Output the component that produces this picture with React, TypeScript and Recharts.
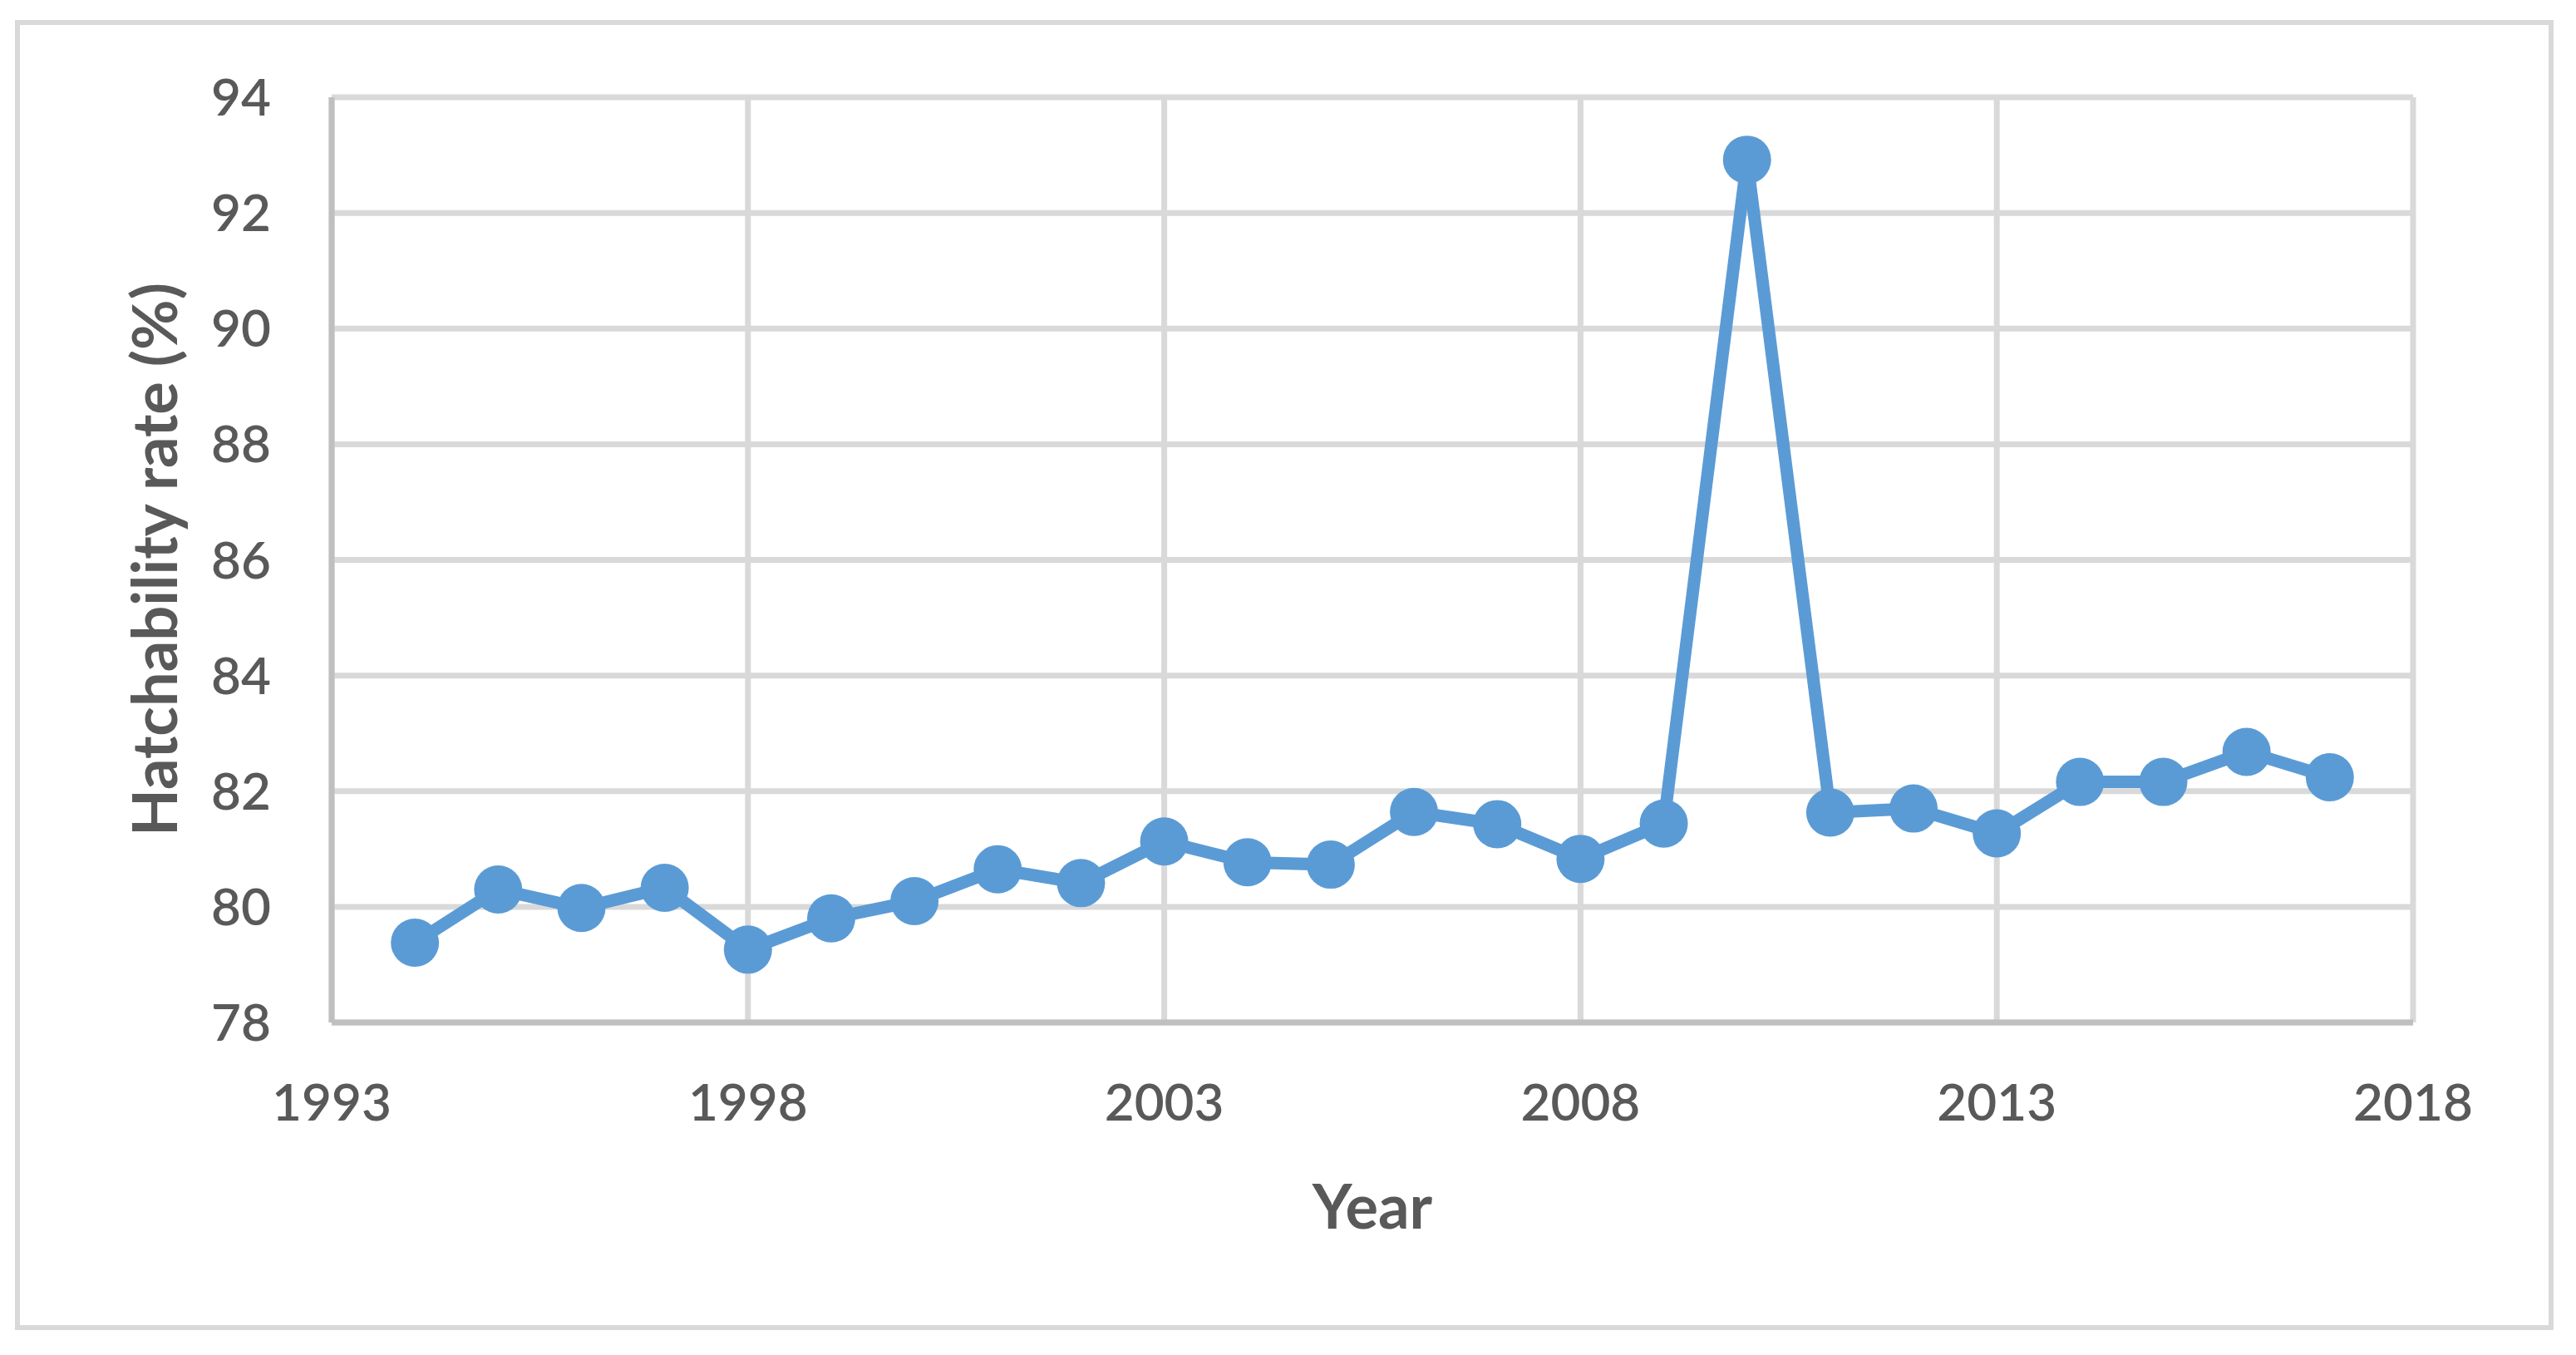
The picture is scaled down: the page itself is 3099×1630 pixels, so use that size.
import React from 'react';
import { LineChart, Line, XAxis, YAxis, CartesianGrid } from 'recharts';

const years = [1994, 1995, 1996, 1997, 1998, 1999, 2000, 2001, 2002, 2003, 2004, 2005, 2006, 2007, 2008, 2009, 2010, 2011, 2012, 2013, 2014, 2015, 2016, 2017];
const hatchability = [79.38, 80.3, 79.98, 80.33, 79.26, 79.8, 80.1, 80.65, 80.41, 81.13, 80.77, 80.73, 81.64, 81.43, 80.83, 81.44, 92.92, 81.63, 81.7, 81.27, 82.16, 82.16, 82.68, 82.24];
const xTicks = [1993, 1998, 2003, 2008, 2013, 2018];
const yTicks = [78, 80, 82, 84, 86, 88, 90, 92, 94];
const xTitle = 'Year';
const yTitle = 'Hatchability rate (%)';

const data = years.map((y, i) => ({ year: y, value: hatchability[i] }));

const W = 3099;
const H = 1630;
const PLOT_L = 399;
const PLOT_R = 2903;
const PLOT_T = 117;
const PLOT_B = 1230;
const TEXT = '#595959';
const FONT = 'Lato, "Open Sans", sans-serif';

const XTick = (props: any) => {
  const { x, y, payload } = props;
  return (
    <text x={x} y={y + 118} textAnchor="middle" fill={TEXT} fontSize={62} fontFamily={FONT} fontWeight={600}>
      {payload.value}
    </text>
  );
};

const YTick = (props: any) => {
  const { x, y, payload } = props;
  return (
    <text x={x - 73} y={y + 22} textAnchor="end" fill={TEXT} fontSize={62} fontFamily={FONT} fontWeight={600}>
      {payload.value}
    </text>
  );
};

const YTitle = () => (
  <text
    x={184}
    y={673}
    transform="rotate(-90, 184, 673)"
    textAnchor="middle"
    dominantBaseline="central"
    fill={TEXT}
    fontSize={74}
    fontWeight={700}
    fontFamily={FONT}
  >
    {yTitle}
  </text>
);

const XTitle = () => (
  <text x={(PLOT_L + PLOT_R) / 2} y={1478} textAnchor="middle" fill={TEXT} fontSize={74} fontWeight={700} fontFamily={FONT}>
    {xTitle}
  </text>
);

export default function App() {
  const yAxisW = 200;
  const xAxisH = 100;
  return (
    <div style={{ position: 'absolute', left: 0, top: 0, width: W, height: H, background: '#fff' }}>
      <div
        style={{
          position: 'absolute',
          left: 18,
          top: 24,
          width: 3072 - 18,
          height: 1600 - 24,
          border: '6px solid #d9d9d9',
          boxSizing: 'border-box',
        }}
      />
      <div style={{ position: 'absolute', left: 0, top: 0 }}>
        <LineChart
          width={W}
          height={H}
          data={data}
          margin={{ top: PLOT_T, right: W - PLOT_R, bottom: H - PLOT_B - xAxisH, left: PLOT_L - yAxisW }}
        >
          <CartesianGrid stroke="#d9d9d9" strokeWidth={7} />
          <XAxis
            dataKey="year"
            type="number"
            domain={[1993, 2018]}
            ticks={xTicks}
            interval={0}
            height={xAxisH}
            tickSize={0}
            tickMargin={0}
            tickLine={false}
            axisLine={{ stroke: '#bfbfbf', strokeWidth: 7 }}
            tick={<XTick />}
            label={<XTitle />}
          />
          <YAxis
            type="number"
            domain={[78, 94]}
            ticks={yTicks}
            interval={0}
            width={yAxisW}
            tickSize={0}
            tickMargin={0}
            tickLine={false}
            axisLine={{ stroke: '#bfbfbf', strokeWidth: 7 }}
            tick={<YTick />}
            label={<YTitle />}
          />
          <Line
            dataKey="value"
            stroke="#5b9bd5"
            strokeWidth={15}
            dot={{ r: 29, fill: '#5b9bd5', stroke: 'none' }}
            activeDot={false}
            isAnimationActive={false}
          />
        </LineChart>
      </div>
    </div>
  );
}
